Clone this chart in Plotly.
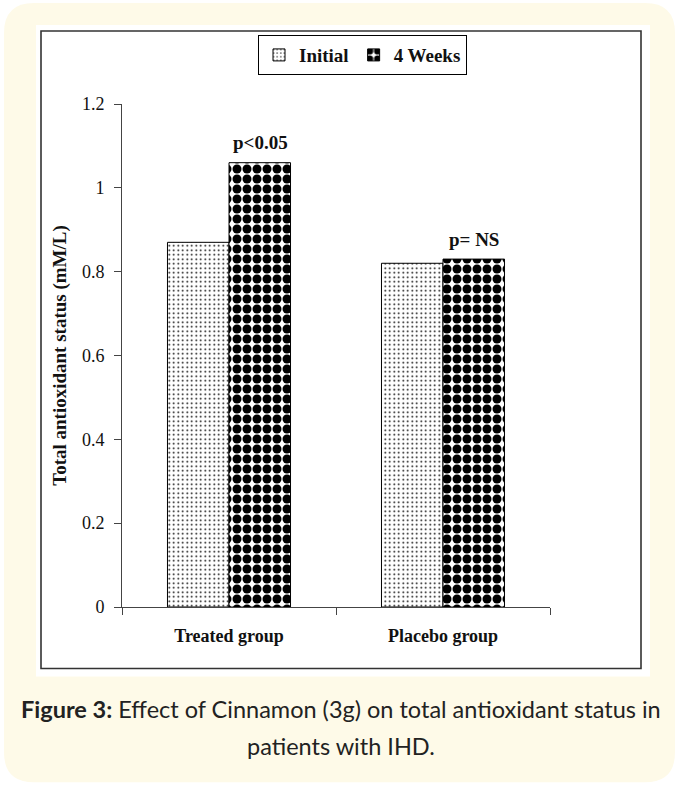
import plotly.graph_objects as go

# ---- data ----
groups = ["Treated group", "Placebo group"]
initial_vals = [0.87, 0.82]
week4_vals = [1.06, 0.83]
p_labels = ["p<0.05", "p= NS"]
y_ticks = [0, 0.2, 0.4, 0.6, 0.8, 1.0, 1.2]
y_tick_text = ["0", "0.2", "0.4", "0.6", "0.8", "1", "1.2"]
series_names = ["Initial", "4 Weeks"]
y_title = "Total antioxidant status (mM/L)"
caption_bold = "Figure 3:"
caption_line1 = " Effect of Cinnamon (3g) on total antioxidant status in"
caption_line2 = "patients with IHD."

# ---- geometry (pixels) ----
FW, FH = 679, 786
L, R, T, B = 122, 129, 104, 178.5
PW, PH = FW - L - R, FH - T - B


def px(x):
    return (x - L) / PW


def py(y):
    return (FH - B - y) / PH


SERIF = "Liberation Serif"
CAPF = "Lato"

fig = go.Figure()
fig.add_trace(go.Bar(
    x=groups, y=initial_vals, name=series_names[0],
    marker=dict(color="white", line=dict(color="black", width=1),
                pattern=dict(shape=".", size=4.5, solidity=0.12,
                             fgcolor="black", bgcolor="white",
                             fgopacity=1, fillmode="replace")),
))
fig.add_trace(go.Bar(
    x=groups, y=week4_vals, name=series_names[1],
    marker=dict(color="white", line=dict(color="black", width=1),
                pattern=dict(shape=".", size=10, solidity=0.64,
                             fgcolor="black", bgcolor="white",
                             fgopacity=1, fillmode="replace")),
))

# p-value labels above the 4-week bars
for g, v, lab in zip(groups, week4_vals, p_labels):
    fig.add_annotation(x=g, y=v, text=f"<b>{lab}</b>", showarrow=False,
                       xref="x", yref="y", xshift=31, yshift=20,
                       yanchor="middle",
                       font=dict(family=SERIF, size=19, color="#111"))


def rounded_rect(x0, y0, x1, y1, r):
    X0, X1 = px(x0), px(x1)
    Y0, Y1 = py(y0), py(y1)
    rx, ry = r / PW, r / PH
    return (f"M {X0+rx},{Y0} L {X1-rx},{Y0} Q {X1},{Y0} {X1},{Y0-ry} "
            f"L {X1},{Y1+ry} Q {X1},{Y1} {X1-rx},{Y1} "
            f"L {X0+rx},{Y1} Q {X0},{Y1} {X0},{Y1+ry} "
            f"L {X0},{Y0-ry} Q {X0},{Y0} {X0+rx},{Y0} Z")


shapes = [
    dict(type="path", xref="paper", yref="paper", layer="below",
         path=rounded_rect(4, 3, 675, 783, 30),
         fillcolor="#FEFAE8", line=dict(width=0)),
    dict(type="rect", xref="paper", yref="paper", layer="below",
         x0=px(36), x1=px(650), y0=py(25), y1=py(677),
         fillcolor="white", line=dict(width=0)),
    dict(type="rect", xref="paper", yref="paper", layer="below",
         x0=px(41), x1=px(641), y0=py(31), y1=py(669),
         fillcolor="white", line=dict(color="#333", width=1.6)),
]

fig.add_annotation(xref="paper", yref="paper", x=px(340.5), y=py(710),
                   text=f"<b>{caption_bold}</b>{caption_line1}",
                   showarrow=False, xanchor="center", yanchor="middle",
                   font=dict(family=CAPF, size=23.5, color="#222"))
fig.add_annotation(xref="paper", yref="paper", x=px(340.5), y=py(747),
                   text=caption_line2,
                   showarrow=False, xanchor="center", yanchor="middle",
                   font=dict(family=CAPF, size=23.5, color="#222"))

fig.update_layout(
    width=FW, height=FH,
    margin=dict(l=L, r=R, t=T, b=B, autoexpand=False),
    paper_bgcolor="white", plot_bgcolor="rgba(0,0,0,0)",
    barmode="group", bargap=0.425, bargroupgap=0,
    shapes=shapes,
    showlegend=True,
    legend=dict(orientation="h", x=px(362.5), xanchor="center",
                y=py(35), yanchor="top",
                bgcolor="white", bordercolor="black", borderwidth=1,
                font=dict(family=SERIF, size=19, color="#111", weight="bold"),
                itemwidth=30, traceorder="normal"),
    font=dict(family=SERIF, color="#111"),
    xaxis=dict(showline=True, linecolor="#444", linewidth=1,
               ticks="outside", tickson="boundaries", ticklen=7,
               tickcolor="#444", ticklabelstandoff=12,
               tickfont=dict(family=SERIF, size=18, color="#111", weight="bold"),
               showgrid=False, zeroline=False, fixedrange=True),
    yaxis=dict(range=[0, 1.2], tickvals=y_ticks, ticktext=y_tick_text,
               showline=True, linecolor="#444", linewidth=1,
               ticks="outside", ticklen=7, tickcolor="#444",
               ticklabelstandoff=6,
               tickfont=dict(family=SERIF, size=18, color="#111"),
               showgrid=False, zeroline=False,
               title=dict(text=f"<b>{y_title}</b>", standoff=10,
                          font=dict(family=SERIF, size=19, color="#111"))),
)

fig.write_html("out.html")
